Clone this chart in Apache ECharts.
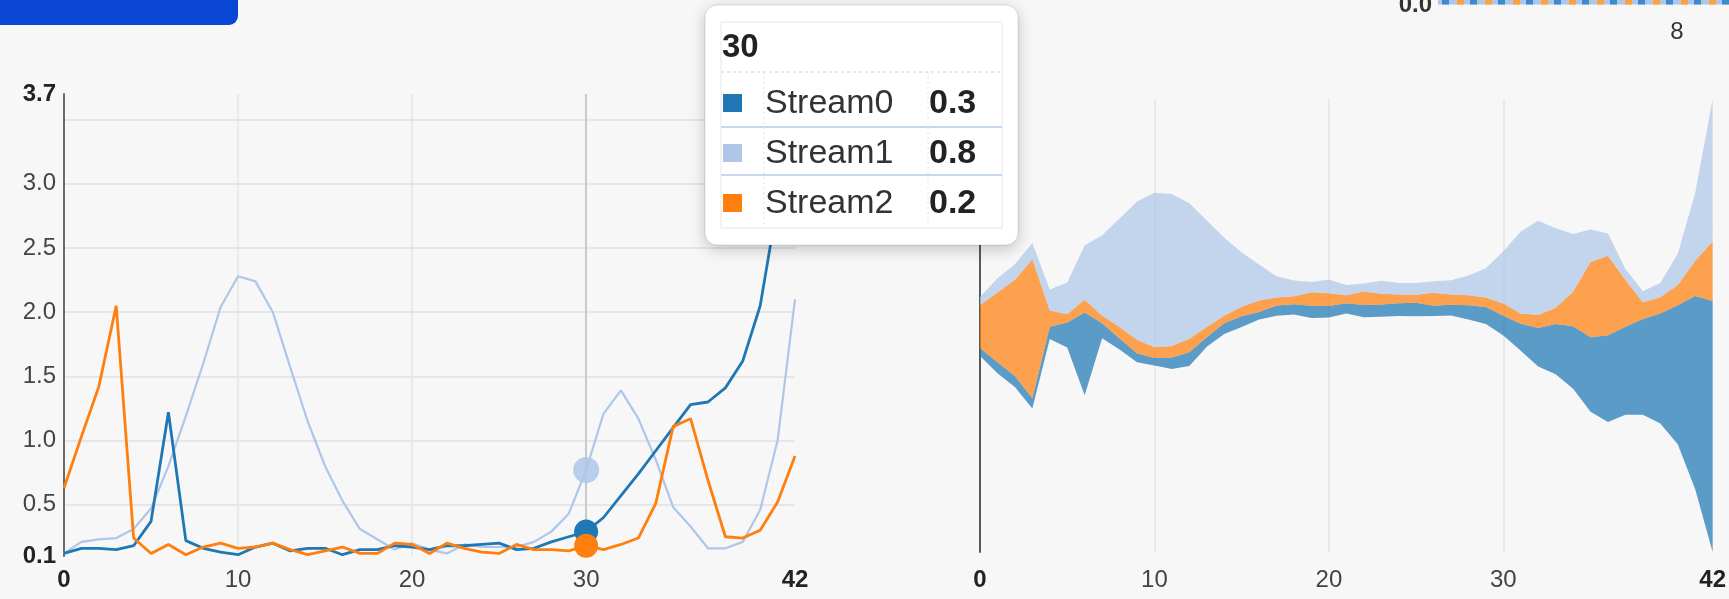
<!DOCTYPE html>
<html>
<head>
<meta charset="utf-8">
<script src="https://cdn.jsdelivr.net/npm/echarts@6/dist/echarts.min.js"></script>
<style>
html,body{margin:0;padding:0;background:#f7f7f7;}
#main{width:1729px;height:599px;}
</style>
</head>
<body>
<div id="main"></div>
<script>
// ---- data ----
const xValues = [0,1,2,3,4,5,6,7,8,9,10,11,12,13,14,15,16,17,18,19,20,21,22,23,24,25,26,27,28,29,30,31,32,33,34,35,36,37,38,39,40,41,42];
const seriesNames = ['Stream0','Stream1','Stream2'];
const stream0 = [0.12,0.16,0.16,0.15,0.18,0.37,1.22,0.22,0.16,0.13,0.11,0.17,0.20,0.14,0.16,0.16,0.11,0.15,0.15,0.18,0.17,0.15,0.18,0.18,0.19,0.20,0.15,0.16,0.21,0.25,0.29,0.40,0.57,0.74,0.92,1.10,1.28,1.30,1.41,1.62,2.05,2.85,3.70];
const stream1 = [0.12,0.21,0.23,0.24,0.31,0.47,0.80,1.19,1.60,2.04,2.28,2.24,2.00,1.57,1.15,0.80,0.53,0.31,0.23,0.15,0.20,0.15,0.12,0.19,0.17,0.17,0.17,0.21,0.29,0.43,0.77,1.21,1.39,1.17,0.85,0.48,0.33,0.16,0.16,0.21,0.46,1.00,2.10];
const stream2 = [0.63,1.03,1.42,2.05,0.24,0.12,0.19,0.11,0.17,0.20,0.16,0.17,0.20,0.15,0.11,0.14,0.17,0.12,0.12,0.20,0.19,0.12,0.20,0.16,0.13,0.12,0.19,0.15,0.15,0.14,0.18,0.15,0.19,0.24,0.51,1.11,1.17,0.69,0.25,0.24,0.30,0.52,0.88];
const xLabelValues = [0,10,20,30,42];
const xGridValues = [10,20,30];
const yLabelValues = [0.1,0.5,1.0,1.5,2.0,2.5,3.0,3.7];
const yGridValues = [0.5,1.0,1.5,2.0,2.5,3.0,3.5];
const hoverIndex = 30;
const colors = ['#1f77b4','#aec7e8','#ff7f0e'];

// ---- streamgraph layout (d3 "wiggle" offset) ----
function wiggleBaseline(layers){
  const n = layers.length, m = layers[0].length;
  const y0 = [0]; let o = 0, o0 = 0;
  for (let j = 1; j < m; j++){
    let s1 = 0, s2 = 0; const dx = xValues[j] - xValues[j-1];
    for (let i = 0; i < n; i++) s1 += layers[i][j];
    for (let i = 0; i < n; i++){
      let s3 = (layers[i][j] - layers[i][j-1]) / (2*dx);
      for (let k = 0; k < i; k++) s3 += (layers[k][j] - layers[k][j-1]) / dx;
      s2 += s3 * layers[i][j];
    }
    o -= s1 ? s2 / s1 * dx : 0;
    y0[j] = o;
    if (o < o0) o0 = o;
  }
  return y0.map(v => v - o0);
}
const streamOrder = [0,2,1]; // bottom -> top
const allStreams = [stream0, stream1, stream2];
const baseline = wiggleBaseline(streamOrder.map(i => allStreams[i]));

const pairs = arr => xValues.map((x,i) => [x, arr[i]]);
const FONT = "'Liberation Sans', Arial, Helvetica, sans-serif";

const chart = echarts.init(document.getElementById('main'));

const xLabelCfg = {
  margin:12, fontFamily:FONT, fontSize:24, color:'#444',
  formatter: v => (Number(v)===0 || Number(v)===42) ? '{b|'+v+'}' : String(v),
  rich:{b:{fontFamily:FONT, fontSize:24, fontWeight:'bold', color:'#222'}}
};

const lineSeries = [stream0, stream1, stream2].map((arr, i) => ({
  name: seriesNames[i], type:'line', xAxisIndex:0, yAxisIndex:0,
  data: pairs(arr), showSymbol:false, symbol:'none', silent:true,
  lineStyle:{color:colors[i], width: i===1 ? 2.2 : 2.8},
  z: i===1 ? 2 : 3,
  markLine: i===0 ? {
    silent:true, symbol:['none','none'], label:{show:false},
    lineStyle:{color:'#c9c9c9', width:2, type:'solid'},
    data:[{xAxis:xValues[hoverIndex]}]
  } : undefined
}));

const markerSeries = [1,0,2].map(i => ({
  type:'scatter', xAxisIndex:0, yAxisIndex:0, silent:true,
  data:[[xValues[hoverIndex], allStreams[i][hoverIndex]]],
  symbol:'circle', symbolSize: i===1 ? 26 : 24,
  itemStyle:{color:colors[i], opacity: i===1 ? 0.85 : 1}, z:5
}));

const streamSeries = [{
  type:'line', xAxisIndex:1, yAxisIndex:1, stack:'stream', data:baseline.slice(),
  symbol:'none', silent:true, lineStyle:{opacity:0, width:0}
}].concat(streamOrder.map(i => ({
  name: seriesNames[i], type:'line', xAxisIndex:1, yAxisIndex:1, stack:'stream',
  data: allStreams[i].slice(), symbol:'none', silent:true,
  lineStyle:{width:0, opacity:0},
  areaStyle:{color:colors[i], opacity:0.72}
})));

// tooltip drawn as a graphic (hover state of the reference)
const TZ = 100;
const tipRows = [0,1,2].map((i, r) => {
  const cy = 104 + r*50;
  return [
    {type:'rect', z:TZ, shape:{x:723, y:cy-10, width:19, height:18}, style:{fill:colors[i]}},
    {type:'text', z:TZ, x:765, y:cy, style:{text:seriesNames[i], font:"34px "+FONT, fill:'#333', verticalAlign:'middle'}},
    {type:'text', z:TZ, x:929, y:cy, style:{text:allStreams[i][hoverIndex].toFixed(1), font:"bold 34px "+FONT, fill:'#222', verticalAlign:'middle'}}
  ];
}).flat();

const graphic = [
  {type:'rect', shape:{x:-12, y:-20, width:250, height:45, r:9}, style:{fill:'#0a46d4'}},
  {type:'text', x:1432, y:5, style:{text:'0.0', font:"bold 24px "+FONT, fill:'#333', align:'right', verticalAlign:'middle'}},
  {type:'line', shape:{x1:1438, y1:2, x2:1729, y2:2}, style:{stroke:'#aec7e8', lineWidth:5}},
  {type:'line', shape:{x1:1442, y1:2, x2:1729, y2:2}, style:{stroke:'#3a8ccc', lineWidth:5, lineDash:[7,21]}},
  {type:'line', shape:{x1:1457, y1:2, x2:1729, y2:2}, style:{stroke:'#ffa03a', lineWidth:5, lineDash:[7,21]}},
  {type:'text', x:1677, y:32, style:{text:'8', font:"24px "+FONT, fill:'#333', align:'center', verticalAlign:'middle'}},
  {type:'rect', z:TZ, shape:{x:705, y:5, width:313, height:240, r:12},
    style:{fill:'#ffffff', stroke:'rgba(0,0,0,0.12)', lineWidth:1, shadowBlur:16, shadowColor:'rgba(0,0,0,0.22)', shadowOffsetY:4}},
  {type:'rect', z:TZ, shape:{x:721, y:22, width:281, height:206}, style:{fill:'none', stroke:'#e6e6e6', lineWidth:1}},
  {type:'line', z:TZ, shape:{x1:721, y1:72, x2:1002, y2:72}, style:{stroke:'#d0d0d0', lineWidth:1, lineDash:[3,3]}},
  {type:'line', z:TZ, shape:{x1:721, y1:127, x2:1002, y2:127}, style:{stroke:'#b3caea', lineWidth:1.5}},
  {type:'line', z:TZ, shape:{x1:721, y1:175, x2:1002, y2:175}, style:{stroke:'#b3caea', lineWidth:1.5}},
  {type:'line', z:TZ, shape:{x1:764, y1:72, x2:764, y2:228}, style:{stroke:'#e2e2e2', lineWidth:1, lineDash:[2,3]}},
  {type:'line', z:TZ, shape:{x1:928, y1:72, x2:928, y2:228}, style:{stroke:'#e2e2e2', lineWidth:1, lineDash:[2,3]}},
  {type:'text', z:TZ, x:722, y:48, style:{text:String(xValues[hoverIndex]), font:"bold 33px "+FONT, fill:'#222', verticalAlign:'middle'}}
].concat(tipRows);

chart.setOption({
  animation:false,
  backgroundColor:'#f7f7f7',
  grid:[
    {left:64, top:94, width:731, height:462},
    {left:980, top:99, width:734, height:453}
  ],
  xAxis:[
    {
      type:'value', gridIndex:0, min:0, max:42,
      axisLine:{show:false},
      axisTick:{show:false, customValues:xGridValues},
      splitLine:{show:true, lineStyle:{color:'#e4e4e4', width:1.5}},
      axisLabel:Object.assign({customValues:xLabelValues}, xLabelCfg)
    },
    {
      type:'category', gridIndex:1, data:xValues.map(String), boundaryGap:false,
      axisLine:{show:false}, axisTick:{show:false},
      splitLine:{show:true, interval:(idx) => xGridValues.indexOf(xValues[idx]) >= 0, lineStyle:{color:'#e4e4e4', width:1.5}},
      axisLabel:Object.assign({interval:(idx) => xLabelValues.indexOf(xValues[idx]) >= 0, margin:16}, xLabelCfg, {margin:16})
    }
  ],
  yAxis:[
    {
      type:'value', gridIndex:0, min:0.1, max:3.7,
      axisLine:{show:true, lineStyle:{color:'#6a6a6a', width:2}},
      axisTick:{show:false, customValues:yGridValues},
      splitLine:{show:true, lineStyle:{color:'#e6e6e6', width:2}},
      axisLabel:{
        customValues:yLabelValues, margin:8, fontFamily:FONT, fontSize:24, color:'#444',
        formatter: v => {
          const s = Number(v).toFixed(1);
          return (Math.abs(v-0.1)<1e-9 || Math.abs(v-3.7)<1e-9) ? '{b|'+s+'}' : s;
        },
        rich:{b:{fontFamily:FONT, fontSize:24, fontWeight:'bold', color:'#222'}}
      }
    },
    {
      type:'value', gridIndex:1, min:0, max: v => v.max,
      axisLine:{show:true, onZero:false, lineStyle:{color:'#5a5a5a', width:2}},
      axisTick:{show:false}, axisLabel:{show:false}, splitLine:{show:false}
    }
  ],
  series: lineSeries.concat(markerSeries, streamSeries),
  graphic: graphic
});
</script>
</body>
</html>
